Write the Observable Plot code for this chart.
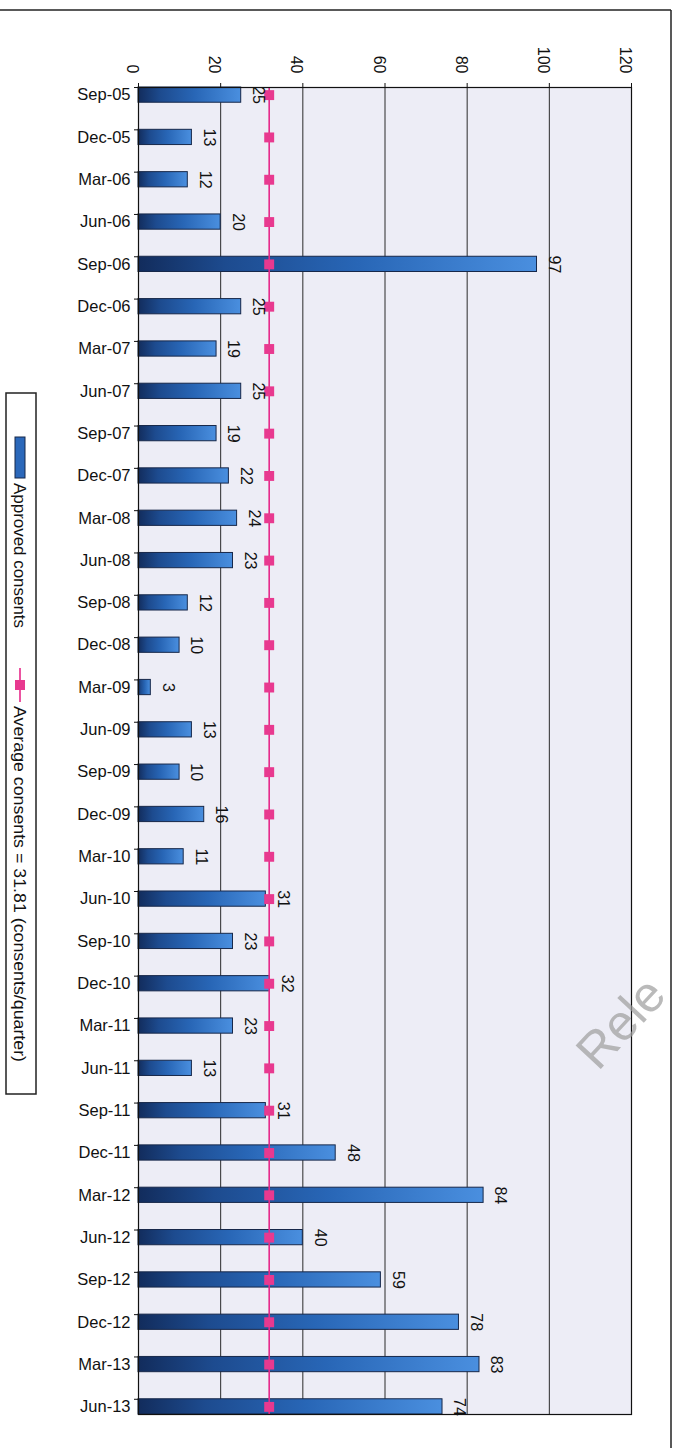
<!DOCTYPE html>
<html>
<head>
<meta charset="utf-8">
<script src="https://cdn.jsdelivr.net/npm/d3@7"></script>
<script src="https://cdn.jsdelivr.net/npm/@observablehq/plot@0.6"></script>
<style>
  html, body { margin: 0; padding: 0; background: #fff; }
  svg { display: block; }
</style>
</head>
<body>
<div id="chart"></div>
<script>
const quarters = ["Sep-05","Dec-05","Mar-06","Jun-06","Sep-06","Dec-06","Mar-07","Jun-07","Sep-07","Dec-07","Mar-08","Jun-08","Sep-08","Dec-08","Mar-09","Jun-09","Sep-09","Dec-09","Mar-10","Jun-10","Sep-10","Dec-10","Mar-11","Jun-11","Sep-11","Dec-11","Mar-12","Jun-12","Sep-12","Dec-12","Mar-13","Jun-13"];
const consents = [25,13,12,20,97,25,19,25,19,22,24,23,12,10,3,13,10,16,11,31,23,32,23,13,31,48,84,40,59,78,83,74];
const average = 31.81;
const xTicks = [0,20,40,60,80,100,120];
const legendLabels = ["Approved consents", "Average consents = 31.81 (consents/quarter)"];

const data = quarters.map((q, i) => ({q, value: consents[i]}));
const font = "'Liberation Sans', Arial, sans-serif";

const chart = Plot.plot({
  width: 675,
  height: 1448,
  marginLeft: 138,
  marginRight: 44,
  marginTop: 87,
  marginBottom: 34,
  style: {fontFamily: font, background: "transparent", color: "#111"},
  x: {domain: [0, 120]},
  y: {domain: quarters, paddingInner: 0.64, paddingOuter: 0, align: 0, round: false},
  marks: [
    Plot.frame({fill: "#ededf6", stroke: null}),
    Plot.gridX(xTicks.slice(1, -1), {stroke: "#2b2b2b", strokeOpacity: 1, strokeWidth: 1}),
    Plot.barX(data, {x: "value", y: "q", fill: "url(#barGrad)", stroke: "#17284a", strokeWidth: 1}),
    Plot.ruleX([average], {stroke: "#e6288a", strokeWidth: 1.6}),
    Plot.dot(data, {x: () => average, y: "q", symbol: "square", r: 5.6, fill: "#e8398f", stroke: null}),
    Plot.text(data, {x: "value", y: "q", text: d => String(d.value), dx: 17, rotate: 90, fontSize: 16, fill: "#111"}),
    Plot.frame({stroke: "#111", strokeWidth: 1.2}),
    Plot.axisX({anchor: "top", ticks: xTicks, tickSize: 5, tickFormat: () => "", label: null, stroke: "#111"}),
    Plot.text(xTicks, {x: d => d, text: d => String(d), frameAnchor: "top", dy: -14, rotate: 90, textAnchor: "end", fontSize: 16, fill: "#111"}),
    Plot.axisY({tickSize: 0, tickPadding: 8, label: null, fontSize: 16.5, fill: "#111"}),
    Plot.axisY({tickSize: 4, tickFormat: () => "", label: null, dy: -7.6, stroke: "#111"})
  ]
});

document.getElementById("chart").appendChild(chart);

const svg = d3.select(chart);
const defs = svg.insert("defs", ":first-child");
const g = defs.append("linearGradient").attr("id", "barGrad").attr("x1", 0).attr("x2", 1).attr("y1", 0).attr("y2", 0);
[["0%", "#122c5c"], ["22%", "#1d4b8f"], ["55%", "#2866b6"], ["100%", "#4a8fdf"]]
  .forEach(([o, c]) => g.append("stop").attr("offset", o).attr("stop-color", c));

// outer chart border (top and right edges visible)
svg.append("line").attr("x1", 0).attr("x2", 671).attr("y1", 10).attr("y2", 10).attr("stroke", "#222").attr("stroke-width", 1.5);
svg.append("line").attr("x1", 671).attr("x2", 671).attr("y1", 10).attr("y2", 1448).attr("stroke", "#222").attr("stroke-width", 1.5);

// legend (rotated)
const lg = svg.append("g").attr("font-family", font).attr("fill", "#111").attr("text-anchor", "start");
lg.append("rect").attr("x", 6).attr("y", 393).attr("width", 30).attr("height", 701)
  .attr("fill", "#fff").attr("stroke", "#222").attr("stroke-width", 1.5);
lg.append("rect").attr("x", 15).attr("y", 437).attr("width", 10).attr("height", 41)
  .attr("fill", "#2b68ba").attr("stroke", "#17284a").attr("stroke-width", 1);
lg.append("text").attr("transform", "translate(20,483) rotate(90)")
  .attr("text-anchor", "start").attr("dy", "0.35em").attr("font-size", 16.5)
  .attr("textLength", 145).attr("lengthAdjust", "spacingAndGlyphs")
  .text(legendLabels[0]);
lg.append("line").attr("x1", 20).attr("x2", 20).attr("y1", 668).attr("y2", 702)
  .attr("stroke", "#e6288a").attr("stroke-width", 1.6);
lg.append("rect").attr("x", 15).attr("y", 680).attr("width", 10).attr("height", 10).attr("fill", "#e8398f");
lg.append("text").attr("transform", "translate(20,706) rotate(90)")
  .attr("text-anchor", "start").attr("dy", "0.35em").attr("font-size", 16.5)
  .attr("textLength", 356).attr("lengthAdjust", "spacingAndGlyphs")
  .text(legendLabels[1]);

// watermark fragment (cut by page edge in the reference)
svg.append("text").attr("transform", "translate(598,1072) rotate(-47)")
  .attr("text-anchor", "start")
  .attr("font-family", font).attr("font-size", 50).attr("fill", "#9c9c9c").attr("fill-opacity", 0.7)
  .text("Rele");
</script>
</body>
</html>
